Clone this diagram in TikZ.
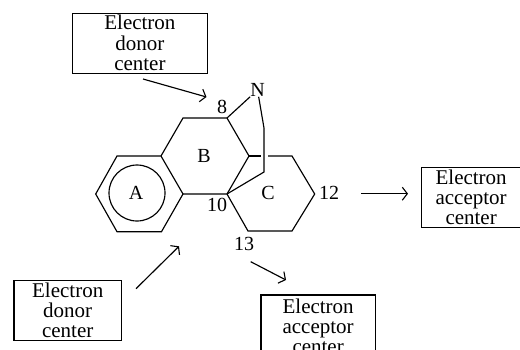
\documentclass[tikz,border=0pt]{standalone}
\usepackage{fontspec}
\setmainfont{Liberation Serif}
\usetikzlibrary{arrows.meta}
\newcommand{\boxtext}[4]{\raisebox{-8pt}[0pt][0pt]{\begin{tabular}{@{}c@{}}#2\\#3\\#4\end{tabular}}\hspace{#1}}
\tikzset{
  lbl/.style={inner sep=0pt,font=\fontsize{20}{20}\selectfont,text=black},
  infobox/.style={draw=black,line width=1.3pt,inner sep=0pt,anchor=north west,font=\fontsize{21}{20}\selectfont,text=black},
  bond/.style={draw=black,line width=1.15pt,line join=miter},
  conn/.style={draw=black,line width=1.15pt,-{Straight Barb[length=5pt,width=13pt,line width=1.1pt]}}
}
\begin{document}
\begin{tikzpicture}[x=1pt,y=-1pt]
\useasboundingbox (0,0) rectangle (520,349);
\clip (0,0) rectangle (520,349);
\fill[white] (0,0) rectangle (520,349);
% rings
\coordinate (a1) at (161,156);\coordinate (a2) at (183,194);\coordinate (a3) at (161.5,231.7);
\coordinate (a4) at (117,231.7);\coordinate (a5) at (95.7,194);\coordinate (a6) at (117,156);
\coordinate (b1) at (183,118);\coordinate (c8) at (227,118);\coordinate (b3) at (249,156);\coordinate (c10) at (227,194);
\coordinate (c2) at (292,156);\coordinate (c3) at (314.7,194);\coordinate (c4) at (292,231);\coordinate (c5) at (248,231);
\coordinate (g1) at (261,156);\coordinate (g2) at (268,156);
\coordinate (br1) at (264,128);\coordinate (br2) at (264,172);
\draw[bond] (a1)--(a2)--(a3)--(a4)--(a5)--(a6)--cycle;
\draw[bond] (a1)--(b1)--(c8)--(b3)--(c10)--(a2);
\draw[bond] (b3)--(g1);
\draw[bond] (g2)--(c2)--(c3)--(c4)--(c5)--(c10);
\draw[bond] (137,193) circle (28);
\node[lbl] (N) at (257.5,90) {N};
\draw[bond] (c8)--(N);
\draw[bond] (N)--(br1)--(br2)--(c10);
\node[lbl] (A) at (136,193) {A};
\node[lbl] (B) at (204,156) {B};
\node[lbl] (C) at (268,193) {C};
\node[lbl] (n8) at (222,107) {8};
\node[lbl] (n10) at (217,205) {10};
\node[lbl] (n12) at (329,193) {12};
\node[lbl] (n13) at (244,244) {13};
% boxes
\node[infobox,minimum width=135.5pt,minimum height=60pt] (d1) at (71.5,12.5) {\boxtext{19pt}{Electron}{donor}{center}};
\node[infobox,minimum width=107.5pt,minimum height=60pt] (d2) at (13.3,279.7) {\boxtext{11.5pt}{Electron}{donor}{center}};
\node[infobox,minimum width=99pt,minimum height=60.3pt] (a1box) at (421,166.7) {\boxtext{0pt}{Electron}{acceptor}{center}};
\node[infobox,minimum width=114.4pt,minimum height=63pt] (a2box) at (260.3,294.3) {\boxtext{6pt}{Electron}{acceptor}{center}};
% connectors
\coordinate (s1) at (143,79);\coordinate (e1) at (206.5,97);
\coordinate (s2) at (136,288.7);\coordinate (e2) at (179,246.3);
\coordinate (s3) at (361,193.7);\coordinate (e3) at (408,193.7);
\coordinate (s4) at (250.7,261.7);\coordinate (e4) at (286,280);
\draw[conn] (s1)--(e1);
\draw[conn] (s2)--(e2);
\draw[conn] (s3)--(e3);
\draw[conn] (s4)--(e4);
\end{tikzpicture}
\end{document}
